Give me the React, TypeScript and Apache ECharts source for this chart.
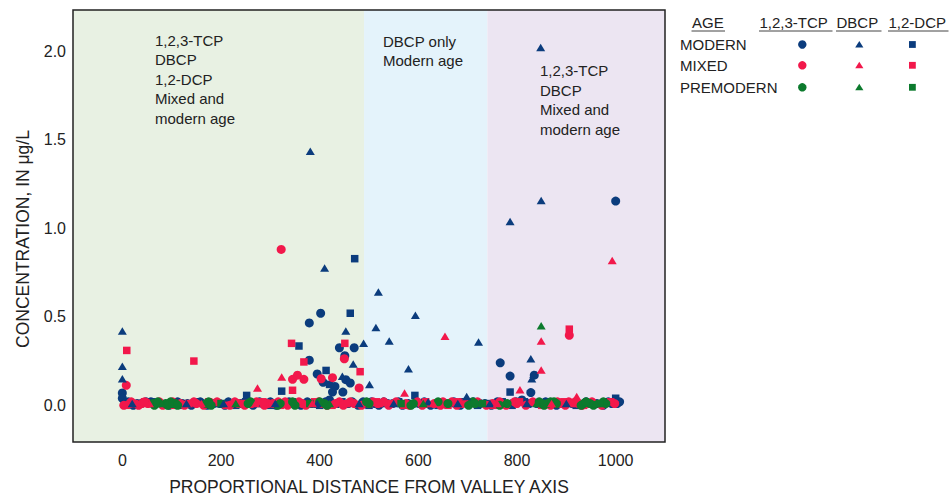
import React, { useEffect, useRef } from "react";
import * as echarts from "echarts";

const FONT = "'Liberation Sans', Arial, Helvetica, sans-serif";
const NAVY = "#0B3C7D";
const RED = "#F2184B";
const GREEN = "#0C7A2D";
const INK = "#222222";

const xMajorTicks = [0, 200, 400, 600, 800, 1000];
const xMinorTicks = [100, 300, 500, 700, 900];
const yMajorTicks = [0, 0.5, 1.0, 1.5, 2.0];
const yMinorTicks = [0.25, 0.75, 1.25, 1.75];

const zoneBounds = [-100, 490, 740, 1100];
const zoneColors = ["#E8F1E3", "#E4F3FB", "#ECE5F2"];

const zoneText1 = ["1,2,3-TCP", "DBCP", "1,2-DCP", "Mixed and", "modern age"];
const zoneText2 = ["DBCP only", "Modern age"];
const zoneText3 = ["1,2,3-TCP", "DBCP", "Mixed and", "modern age"];

const ageLabels = ["MODERN", "MIXED", "PREMODERN"];
const compoundLabels = ["1,2,3-TCP", "DBCP", "1,2-DCP"];

// 1,2,3-TCP (circles)
const modernTCP: [number, number][] = [
  [0, 0.07], [0, 0.04], [379, 0.465], [402, 0.52], [379, 0.255], [395, 0.177],
  [407, 0.13], [431, 0.107], [426, 0.075], [447, 0.075], [440, 0.325], [451, 0.28],
  [470, 0.325], [453, 0.145], [462, 0.126], [766, 0.24], [786, 0.165], [828, 0.072],
  [835, 0.17], [1000, 1.153],
  [5, 0.01], [30, 0.01], [48, 0.02], [122, 0.01], [140, 0.0], [198, 0.01], [215, 0.02],
  [240, 0.01], [285, 0.01], [300, 0.02], [352, 0.01], [375, 0.02], [392, 0.01],
  [420, 0.03], [458, 0.01], [488, 0.02], [512, 0.01], [538, 0.01], [560, 0.02],
  [602, 0.01], [640, 0.01], [672, 0.02], [700, 0.01], [735, 0.01], [760, 0.02],
  [790, 0.01], [810, 0.03], [840, 0.01], [955, 0.01], [985, 0.02], [1003, 0.01],
  [12, 0.02], [22, 0.0], [38, 0.01], [58, 0.02], [68, 0.01], [95, 0.0], [112, 0.02],
  [132, 0.01], [158, 0.02], [172, 0.0], [185, 0.01], [208, 0.0], [225, 0.01],
  [250, 0.02], [265, 0.0], [278, 0.02], [292, 0.01], [312, 0.0], [325, 0.01],
  [338, 0.02], [362, 0.0], [384, 0.01], [412, 0.02], [436, 0.01], [466, 0.02],
  [478, 0.0], [495, 0.01], [505, 0.02], [520, 0.0], [530, 0.02], [548, 0.01],
  [568, 0.0], [580, 0.01], [612, 0.02], [625, 0.0], [655, 0.01], [685, 0.0],
  [712, 0.02], [725, 0.01], [748, 0.0], [772, 0.01], [798, 0.02], [825, 0.01],
  [858, 0.02], [880, 0.0], [912, 0.01], [940, 0.02], [962, 0.01], [975, 0.0],
  [992, 0.01], [1008, 0.02],
];
const mixedTCP: [number, number][] = [
  [8, 0.113], [322, 0.88], [345, 0.147], [355, 0.17], [368, 0.147], [403, 0.15],
  [426, 0.156], [450, 0.263], [480, 0.098], [906, 0.395],
  [15, 0.01], [40, 0.01], [75, 0.02], [118, 0.01], [150, 0.01], [180, 0.01],
  [228, 0.02], [262, 0.01], [295, 0.01], [330, 0.02], [365, 0.01], [405, 0.01],
  [440, 0.02], [470, 0.01], [500, 0.01], [530, 0.02], [575, 0.01], [615, 0.01],
  [650, 0.02], [690, 0.01], [720, 0.02], [750, 0.01], [800, 0.01], [890, 0.01],
  [905, 0.02], [925, 0.01], [945, 0.01],
  [3, 0.0], [18, 0.02], [33, 0.0], [45, 0.02], [52, 0.01], [82, 0.0], [102, 0.02],
  [126, 0.0], [145, 0.02], [165, 0.0], [192, 0.02], [218, 0.0], [235, 0.01],
  [248, 0.0], [272, 0.02], [288, 0.0], [305, 0.01], [316, 0.02], [335, 0.0],
  [358, 0.02], [372, 0.0], [398, 0.02], [415, 0.0], [432, 0.01], [448, 0.0],
  [462, 0.02], [485, 0.0], [508, 0.02], [518, 0.01], [540, 0.0], [555, 0.02],
  [582, 0.0], [598, 0.02], [608, 0.0], [632, 0.01], [645, 0.0], [668, 0.02],
  [678, 0.0], [698, 0.02], [738, 0.0], [765, 0.02], [778, 0.0], [795, 0.02],
  [818, 0.0], [832, 0.02], [868, 0.0], [882, 0.02], [898, 0.0], [918, 0.02],
  [932, 0.0], [952, 0.02], [972, 0.0], [998, 0.01],
];
const premodernTCP: [number, number][] = [
  [62, 0.01], [88, 0.01], [98, 0.02], [108, 0.01], [170, 0.01], [255, 0.01],
  [320, 0.01], [345, 0.02], [410, 0.01], [500, 0.01], [590, 0.01], [660, 0.01],
  [710, 0.02], [780, 0.01], [850, 0.01], [862, 0.01], [875, 0.02], [935, 0.01],
  [948, 0.01], [980, 0.01],
  [65, 0.0], [72, 0.02], [92, 0.0], [102, 0.01], [112, 0.0], [175, 0.02], [180, 0.0],
  [260, 0.02], [315, 0.0], [350, 0.0], [400, 0.02], [415, 0.0], [495, 0.02],
  [585, 0.0], [640, 0.02], [702, 0.0], [715, 0.01], [765, 0.0], [845, 0.02],
  [855, 0.0], [868, 0.02], [880, 0.01], [930, 0.0], [940, 0.02], [955, 0.0], [975, 0.02],
];

// DBCP (triangles)
const modernDBCP: [number, number][] = [
  [0, 0.42], [0, 0.22], [0, 0.15], [381, 1.435], [410, 0.775], [453, 0.42],
  [468, 0.233], [446, 0.164], [489, 0.35], [501, 0.117], [514, 0.44], [519, 0.64],
  [541, 0.363], [580, 0.207], [594, 0.508], [698, 0.05], [722, 0.357], [786, 1.038],
  [828, 0.263], [834, 0.175], [830, 0.15], [848, 2.02], [849, 1.157],
  [20, 0.01], [130, 0.01], [205, 0.01], [310, 0.01], [395, 0.01], [480, 0.01],
  [550, 0.01], [620, 0.02], [680, 0.01], [745, 0.01], [820, 0.01], [900, 0.01],
];
const mixedDBCP: [number, number][] = [
  [274, 0.098], [323, 0.16], [572, 0.07], [654, 0.39], [806, 0.088], [849, 0.2],
  [849, 0.363], [921, 0.05], [993, 0.818],
  [55, 0.01], [160, 0.01], [270, 0.01], [385, 0.01], [520, 0.01], [630, 0.01],
  [760, 0.01], [870, 0.01],
];
const premodernDBCP: [number, number][] = [
  [849, 0.45],
  [80, 0.01], [230, 0.01], [420, 0.01], [610, 0.01], [840, 0.01], [960, 0.01],
];

// 1,2-DCP (squares)
const modernDCP: [number, number][] = [
  [252, 0.056], [323, 0.08], [358, 0.335], [413, 0.197], [420, 0.118], [462, 0.52],
  [471, 0.828], [593, 0.056], [786, 0.075], [1000, 0.04],
  [10, 0.02], [85, 0.01], [190, 0.01], [275, 0.01], [360, 0.01], [430, 0.01],
  [525, 0.01], [595, 0.01], [665, 0.01], [740, 0.01], [815, 0.02], [995, 0.02],
  [28, 0.0], [60, 0.02], [115, 0.0], [150, 0.02], [230, 0.0], [250, 0.02], [300, 0.0],
  [345, 0.02], [400, 0.0], [445, 0.02], [500, 0.0], [560, 0.02], [640, 0.0],
  [690, 0.02], [720, 0.0], [770, 0.02], [790, 0.0], [860, 0.02], [920, 0.0], [980, 0.02],
];
const mixedDCP: [number, number][] = [
  [9, 0.31], [145, 0.25], [343, 0.35], [345, 0.085], [368, 0.245], [451, 0.35],
  [482, 0.19], [906, 0.43],
  [25, 0.01], [135, 0.01], [245, 0.01], [340, 0.01], [455, 0.01], [545, 0.01],
  [705, 0.01], [885, 0.01], [915, 0.01],
  [8, 0.0], [45, 0.02], [100, 0.0], [175, 0.02], [210, 0.0], [285, 0.02], [320, 0.0],
  [390, 0.02], [425, 0.0], [515, 0.02], [570, 0.0], [615, 0.02], [660, 0.0],
  [680, 0.02], [752, 0.0], [805, 0.02], [850, 0.0], [895, 0.02], [935, 0.0], [990, 0.02],
];
const premodernDCP: [number, number][] = [
  [70, 0.01], [200, 0.01], [380, 0.01], [565, 0.01], [730, 0.01], [855, 0.01], [968, 0.01],
];

const GRID = { left: 73, top: 10, width: 592, height: 432 };

function scatter(name: string, data: [number, number][], color: string, symbol: string, size: any) {
  return {
    name,
    type: "scatter",
    xAxisIndex: 0,
    yAxisIndex: 0,
    data,
    symbol,
    symbolSize: size,
    itemStyle: { color, opacity: 1 },
    emphasis: { disabled: true },
    silent: true,
    z: 3,
  };
}

export default function App() {
  const ref = useRef<HTMLDivElement>(null);
  useEffect(() => {
    const chart = echarts.init(ref.current!, null, { renderer: "svg" });
    const tickStyle = { color: INK, width: 1.5 };
    const labelStyle = { fontSize: 16, color: INK, fontFamily: FONT };

    const textStyle = { fontSize: 15, fill: INK, fontFamily: FONT };
    const graphics: any[] = [];
    graphics.push({
      type: "text", x: 155, y: 30.5, z: 10,
      style: { ...textStyle, text: zoneText1.join("\n"), lineHeight: 19.5, textVerticalAlign: "top" },
    });
    graphics.push({
      type: "text", x: 383, y: 31.5, z: 10,
      style: { ...textStyle, text: zoneText2.join("\n"), lineHeight: 19.5, textVerticalAlign: "top" },
    });
    graphics.push({
      type: "text", x: 540, y: 61, z: 10,
      style: { ...textStyle, text: zoneText3.join("\n"), lineHeight: 19.5, textVerticalAlign: "top" },
    });
    graphics.push({
      type: "text", x: 369, y: 487, z: 10,
      style: { fontSize: 17.5, fill: INK, fontFamily: FONT, text: "PROPORTIONAL DISTANCE FROM VALLEY AXIS", textAlign: "center", textVerticalAlign: "middle" },
    });
    graphics.push({
      type: "text", x: 23, y: 239, rotation: Math.PI / 2, z: 10,
      style: { fontSize: 17.5, fill: INK, fontFamily: FONT, text: "CONCENTRATION, IN μg/L", textAlign: "center", textVerticalAlign: "middle" },
    });
    graphics.push({
      type: "rect", z: 20, silent: true,
      shape: { x: GRID.left, y: GRID.top, width: GRID.width, height: GRID.height },
      style: { fill: "none", stroke: INK, lineWidth: 1.5 },
    });
    const headers = [
      { text: "AGE", x: 692 },
      { text: compoundLabels[0], x: 759.5 },
      { text: compoundLabels[1], x: 836.5 },
      { text: compoundLabels[2], x: 888.5 },
    ];
    const headerWidths = [33, 73, 45, 60];
    headers.forEach((h, i) => {
      graphics.push({
        type: "text", x: h.x, y: 22.5, z: 10,
        style: { ...textStyle, text: h.text, textVerticalAlign: "middle" },
      });
      graphics.push({
        type: "line", z: 10,
        shape: { x1: h.x - 0.5, y1: 31, x2: h.x + headerWidths[i], y2: 31 },
        style: { stroke: "#444", lineWidth: 1 },
      });
    });
    const rowY = [44.5, 65.3, 87.3];
    const rowColors = [NAVY, RED, GREEN];
    ageLabels.forEach((lab, i) => {
      const y = rowY[i];
      const c = rowColors[i];
      graphics.push({
        type: "text", x: 680, y, z: 10,
        style: { ...textStyle, text: lab, textVerticalAlign: "middle" },
      });
      graphics.push({ type: "circle", z: 10, shape: { cx: 802.3, cy: y, r: 4.2 }, style: { fill: c } });
      graphics.push({
        type: "polygon", z: 10,
        shape: { points: [[859.3, y - 3.6], [855.2, y + 3], [863.4, y + 3]] },
        style: { fill: c },
      });
      graphics.push({ type: "rect", z: 10, shape: { x: 909, y: y - 3.4, width: 6.8, height: 6.8 }, style: { fill: c } });
    });

    const areaData = zoneColors.map((col, i) => [
      { xAxis: zoneBounds[i], itemStyle: { color: col } },
      { xAxis: zoneBounds[i + 1] },
    ]);

    const tri = [9, 7.5];
    const option: any = {
      animation: false,
      backgroundColor: "#ffffff",
      grid: { ...GRID, show: false },
      xAxis: [
        {
          type: "value", min: -100, max: 1100, gridIndex: 0, position: "bottom",
          axisLine: { show: false, onZero: false },
          splitLine: { show: false },
          axisTick: { show: true, inside: true, length: 8, customValues: xMajorTicks, lineStyle: tickStyle },
          axisLabel: { ...labelStyle, margin: 10, customValues: xMajorTicks, formatter: (v: number) => String(v) },
        },
        {
          type: "value", min: -100, max: 1100, gridIndex: 0, position: "bottom",
          axisLine: { show: false, onZero: false },
          splitLine: { show: false },
          axisTick: { show: true, inside: true, length: 4.5, customValues: xMinorTicks, lineStyle: tickStyle },
          axisLabel: { show: false },
        },
      ],
      yAxis: [
        {
          type: "value", min: -0.207, max: 2.232, gridIndex: 0, position: "left",
          axisLine: { show: false, onZero: false },
          splitLine: { show: false },
          axisTick: { show: true, inside: true, length: 7, customValues: yMajorTicks, lineStyle: tickStyle },
          axisLabel: { ...labelStyle, margin: 7, customValues: yMajorTicks, formatter: (v: number) => v.toFixed(1) },
        },
        {
          type: "value", min: -0.207, max: 2.232, gridIndex: 0, position: "left",
          axisLine: { show: false, onZero: false },
          splitLine: { show: false },
          axisTick: { show: true, inside: true, length: 5, customValues: yMinorTicks, lineStyle: tickStyle },
          axisLabel: { show: false },
        },
      ],
      series: [
        {
          name: "zones", type: "scatter", xAxisIndex: 0, yAxisIndex: 0, data: [], z: 0, silent: true,
          markArea: { silent: true, data: areaData, itemStyle: { opacity: 1 } },
        },
        scatter("MODERN 1,2,3-TCP", modernTCP, NAVY, "circle", 9),
        scatter("MODERN 1,2-DCP", modernDCP, NAVY, "rect", 7.5),
        scatter("MIXED 1,2,3-TCP", mixedTCP, RED, "circle", 9),
        scatter("MIXED 1,2-DCP", mixedDCP, RED, "rect", 7.5),
        scatter("PREMODERN 1,2,3-TCP", premodernTCP, GREEN, "circle", 9),
        scatter("PREMODERN 1,2-DCP", premodernDCP, GREEN, "rect", 7.5),
        scatter("MODERN DBCP", modernDBCP, NAVY, "triangle", tri),
        scatter("MIXED DBCP", mixedDBCP, RED, "triangle", tri),
        scatter("PREMODERN DBCP", premodernDBCP, GREEN, "triangle", tri),
      ],
      graphic: graphics,
    };
    chart.setOption(option);
    return () => chart.dispose();
  }, []);
  return <div ref={ref} style={{ position: "fixed", left: 0, top: 0, width: 952, height: 500 }} />;
}
